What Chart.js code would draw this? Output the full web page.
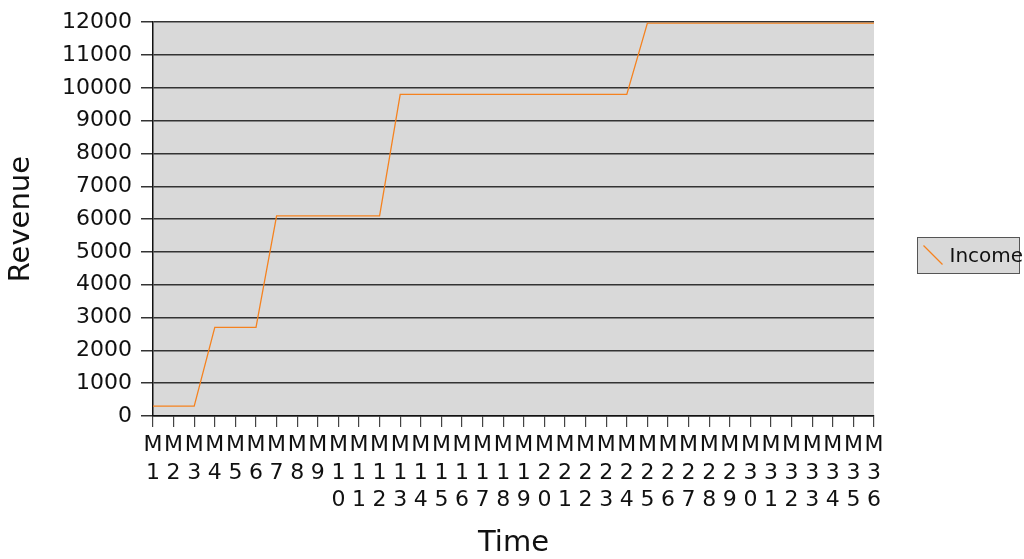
<!DOCTYPE html>
<html>
<head>
<meta charset="utf-8">
<script src="https://cdn.jsdelivr.net/npm/chart.js@4"></script>
<style>
  html, body { margin: 0; padding: 0; background: #ffffff; }
  #wrap { width: 1024px; height: 559px; position: relative; }
</style>
</head>
<body>
<div id="wrap"><canvas id="c" width="1024" height="559"></canvas></div>
<script>
const categories = ["M1","M2","M3","M4","M5","M6","M7","M8","M9","M10","M11","M12",
  "M13","M14","M15","M16","M17","M18","M19","M20","M21","M22","M23","M24",
  "M25","M26","M27","M28","M29","M30","M31","M32","M33","M34","M35","M36"];
const incomeValues = [300,300,300,2700,2700,2700,6100,6100,6100,6100,6100,6100,
  9800,9800,9800,9800,9800,9800,9800,9800,9800,9800,9800,9800,
  11970,11970,11970,11970,11970,11970,11970,11970,11970,11970,11970,11970];
const seriesName = "Income";
const xTitle = "Time";
const yTitle = "Revenue";
const yMin = 0, yMax = 12000, yStep = 1000;

const FONT = "'DejaVu Sans', sans-serif";
const LINE_COLOR = '#f5821f';

const plotBg = {
  id: 'plotBg',
  beforeDraw(chart) {
    const {ctx, chartArea: a} = chart;
    ctx.save();
    ctx.fillStyle = '#d9d9d9';
    ctx.fillRect(a.left, a.top, a.right - a.left, a.bottom - a.top);
    ctx.restore();
  }
};

const boxLegend = {
  id: 'boxLegend',
  afterDraw(chart) {
    const ctx = chart.ctx;
    const a = chart.chartArea;
    const cy = (a.top + a.bottom) / 2 + 37;
    const x0 = 917.5, w = 102, h = 36;
    const y0 = Math.round(cy - h / 2) - 0.5;
    ctx.save();
    ctx.fillStyle = '#d9d9d9';
    ctx.fillRect(x0, y0, w, h);
    ctx.strokeStyle = '#555555';
    ctx.lineWidth = 1;
    ctx.strokeRect(x0, y0, w, h);
    ctx.strokeStyle = LINE_COLOR;
    ctx.lineWidth = 1.2;
    ctx.beginPath();
    ctx.moveTo(x0 + 6, y0 + 8);
    ctx.lineTo(x0 + 25, y0 + 27);
    ctx.stroke();
    ctx.fillStyle = '#111111';
    ctx.font = "20px " + FONT;
    ctx.textBaseline = 'middle';
    ctx.textAlign = 'left';
    ctx.fillText(seriesName, x0 + 32, y0 + h / 2 + 1);
    ctx.restore();
  }
};

new Chart(document.getElementById('c'), {
  type: 'line',
  data: {
    labels: categories.map(s => s.split('')),
    datasets: [{
      label: seriesName,
      data: incomeValues,
      borderColor: LINE_COLOR,
      backgroundColor: LINE_COLOR,
      borderWidth: 1.3,
      pointRadius: 0,
      tension: 0,
      fill: false
    }]
  },
  options: {
    responsive: false,
    animation: false,
    devicePixelRatio: 1,
    layout: { padding: { top: 20, right: 150, left: 0, bottom: 0 } },
    plugins: {
      legend: { display: false },
      tooltip: { enabled: false },
      title: { display: false }
    },
    scales: {
      x: {
        type: 'category',
        offset: false,
        afterFit(scale) { scale.height = 143; },
        grid: {
          drawOnChartArea: false,
          drawTicks: true,
          tickLength: 11,
          tickColor: '#444444',
          lineWidth: 1.2
        },
        border: { display: true, color: '#111111', width: 1.5 },
        ticks: {
          autoSkip: false,
          maxRotation: 0,
          minRotation: 0,
          padding: 5,
          color: '#111111',
          font: { family: FONT, size: 22, lineHeight: 1.25 }
        },
        title: {
          display: true,
          text: xTitle,
          color: '#111111',
          font: { family: FONT, size: 29, lineHeight: 1.1 },
          padding: { top: 0, bottom: 0 }
        }
      },
      y: {
        min: yMin,
        max: yMax,
        afterFit(scale) { scale.width = 153; },
        grid: {
          drawOnChartArea: true,
          drawTicks: true,
          tickLength: 12,
          color: '#333333',
          tickColor: '#333333',
          lineWidth: 1.5
        },
        border: { display: true, color: '#111111', width: 1.5 },
        ticks: {
          stepSize: yStep,
          padding: 9,
          color: '#111111',
          font: { family: FONT, size: 22 },
          callback: (v) => String(v)
        },
        title: {
          display: true,
          text: yTitle,
          color: '#111111',
          font: { family: FONT, size: 29, lineHeight: 1.2 },
          padding: { top: 4, bottom: 0 }
        }
      }
    }
  },
  plugins: [plotBg, boxLegend]
});
</script>
</body>
</html>
